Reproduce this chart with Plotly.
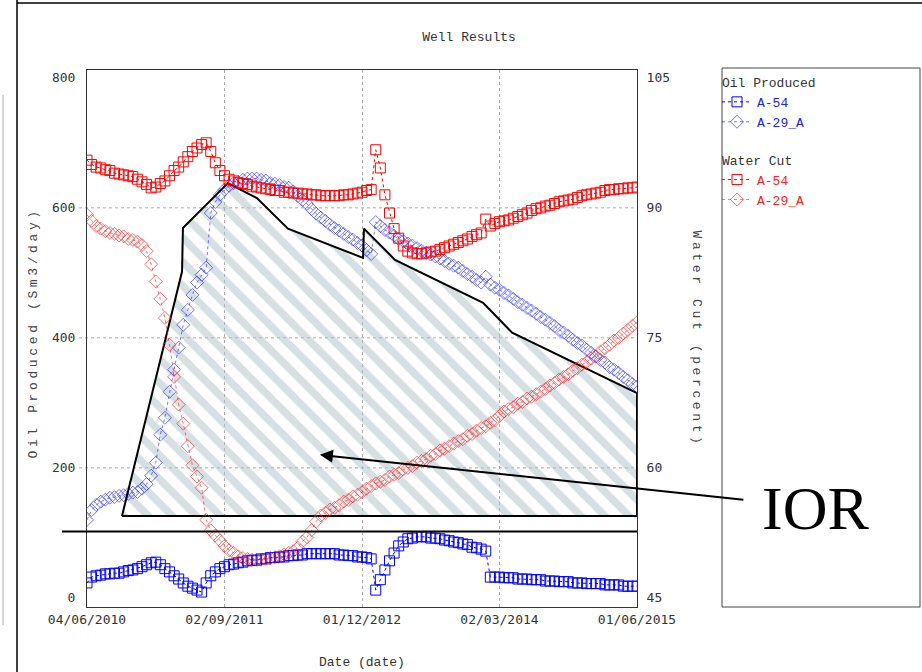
import pandas as pd
import plotly.graph_objects as go

# ---- data -----------------------------------------------------------------
# report dates: 121 evenly spaced samples between first and last report
dates = pd.date_range("2010-06-04", "2015-06-01", periods=121)

# Oil produced (Sm3/day)
oil_a54 = [
    23, 32, 34, 35, 37, 37, 38, 38, 40, 42, 43, 45, 48,
    51, 54, 55, 51, 45, 40, 34, 29, 23, 18, 15, 12, 9,
    23, 34, 40, 45, 48, 51, 52, 54, 55, 57, 58, 58, 60,
    60, 62, 62, 63, 63, 65, 65, 66, 66, 68, 68, 68,
    68, 68, 68, 68, 66, 66, 65, 65, 63, 63, 62, 60,
    12, 28, 43, 57, 69, 80, 86, 91, 92, 94, 94, 94,
    92, 92, 91, 89, 88, 86, 85, 83, 82, 78, 77, 75,
    72, 32, 32, 32, 31, 31, 31, 29, 29, 29, 28, 28,
    28, 26, 26, 26, 25, 25, 25, 23, 23, 23, 22, 22,
    22, 22, 20, 20, 20, 20, 18, 18, 18, 18,
]
oil_a29a = [
    120, 135, 143, 148, 151, 154, 155, 157, 158, 160, 162, 163, 168,
    175, 188, 208, 251, 277, 317, 351, 385, 420, 443, 466, 485, 497,
    508, 592, 609, 620, 628, 634, 638, 640, 643, 645, 645, 645, 643,
    642, 638, 637, 635, 632, 631, 625, 618, 612, 606, 598, 591,
    585, 580, 574, 569, 565, 560, 555, 551, 546, 542, 535, 529,
    578, 572, 566, 562, 557, 552, 549, 545, 542, 538, 534, 531,
    528, 525, 522, 518, 514, 511, 508, 503, 498, 494, 489, 485,
    494, 482, 477, 474, 469, 465, 460, 455, 451, 446, 442, 437,
    432, 428, 423, 418, 412, 408, 403, 397, 392, 388, 382, 377,
    371, 366, 362, 355, 351, 346, 340, 335, 329, 325,
]

# Water cut (percent)
wc_a54 = [
    95.5, 95.0, 94.7, 94.6, 94.4, 94.3, 94.0, 93.9, 93.8, 93.7, 93.6, 93.3, 93.0,
    92.7, 92.3, 92.4, 92.8, 93.1, 93.7, 94.3, 94.7, 95.3, 95.9, 96.5, 96.9, 97.3,
    97.5, 96.5, 95.2, 94.3, 93.7, 93.3, 93.1, 92.9, 92.8, 92.7, 92.5, 92.4, 92.3,
    92.2, 92.1, 92.0, 92.0, 91.8, 91.8, 91.7, 91.7, 91.6, 91.6, 91.5, 91.5,
    91.4, 91.4, 91.4, 91.4, 91.4, 91.5, 91.5, 91.6, 91.7, 91.8, 92.0, 92.1,
    96.7, 94.6, 91.5, 89.4, 87.6, 86.5, 85.6, 85.0, 84.8, 84.7, 84.7, 84.8,
    84.9, 85.0, 85.2, 85.4, 85.6, 85.8, 86.0, 86.2, 86.4, 86.7, 86.9, 87.1,
    88.7, 87.9, 88.2, 88.4, 88.5, 88.6, 88.8, 89.0, 89.2, 89.4, 89.7, 89.9,
    90.0, 90.2, 90.3, 90.5, 90.7, 90.8, 90.9, 91.0, 91.2, 91.4, 91.5, 91.6,
    91.7, 91.8, 92.0, 92.1, 92.1, 92.2, 92.2, 92.3, 92.3, 92.4,
]
wc_a29a = [
    89.2, 88.5, 87.9, 87.6, 87.3, 87.1, 87.0, 86.8, 86.7, 86.4, 86.3, 86.1, 85.7,
    85.0, 83.5, 81.5, 79.5, 77.3, 74.2, 70.5, 67.3, 65.1, 62.5, 60.3, 59.0, 57.7,
    54.0, 52.8, 52.2, 51.6, 51.0, 50.5, 50.2, 49.8, 49.6, 49.5, 49.4, 49.4, 49.4,
    49.5, 49.6, 49.7, 49.8, 50.0, 50.2, 50.4, 50.8, 51.5, 52.0, 52.8, 53.8,
    54.5, 54.8, 55.2, 55.4, 55.7, 56.1, 56.3, 56.7, 56.9, 57.2, 57.6, 57.9,
    58.2, 58.4, 58.6, 59.0, 59.2, 59.4, 59.8, 60.0, 60.2, 60.6, 60.8, 61.0,
    61.4, 61.6, 62.0, 62.2, 62.5, 62.8, 63.1, 63.3, 63.7, 63.9, 64.3, 64.6,
    64.8, 65.2, 65.5, 66.0, 66.5, 66.8, 67.0, 67.4, 67.6, 68.0, 68.2, 68.5,
    68.8, 69.1, 69.5, 69.8, 70.2, 70.5, 70.8, 71.2, 71.5, 71.9, 72.2, 72.6,
    72.9, 73.4, 73.8, 74.2, 74.7, 75.0, 75.5, 75.9, 76.4, 76.8,
]

# IOR (improved oil recovery) envelope, in oil-rate units
ior_dates = ["2010-09-28", "2011-04-15", "2011-04-18", "2011-09-14", "2011-12-19",
             "2012-03-31", "2012-12-05", "2012-12-08", "2013-03-21", "2014-01-07",
             "2014-04-13", "2015-06-01", "2015-06-01"]
ior_oil = [126, 502, 569, 638, 615, 568, 523, 568, 520, 454, 408, 315, 126]
base_oil = 102                          # reference base-rate line
ior_arrow_date, ior_arrow_oil = "2012-07-15", 220

# axis ticks
x_tickvals = ["2010-06-04", "2011-09-02 18:00", "2012-12-01 12:00",
              "2014-03-02 06:00", "2015-06-01"]
x_ticktext = ["04/06/2010", "02/09/2011", "01/12/2012", "02/03/2014", "01/06/2015"]
oil_ticks = [0, 200, 400, 600, 800]
oil_grid = [200, 400, 600]
wc_ticks = [45, 60, 75, 90, 105]

# ---- layout geometry (pixels) -------------------------------------------
W, H = 922, 672
L, R, T, B = 87, 637, 70, 607          # plot-area edges


def px(x):
    return (x - L) / (R - L)


def py(y):
    return (B - y) / (B - T)


MONO = "Liberation Mono, Courier New, monospace"
TICKF = "DejaVu Sans Mono, monospace"
BLUE, RED = "#0000ff", "#ff0000"
BLUE_L, RED_L = "rgba(40,40,255,0.65)", "rgba(255,30,30,0.65)"
GRID = "#aaa"


def spaced(s, gap=6):
    sep = "<span style='font-size:%dpx'>\u00a0</span>" % gap
    return sep.join(ch if ch != " " else "\u00a0" for ch in s)


fig = go.Figure()

# hatched IOR region
fig.add_trace(go.Scatter(
    x=ior_dates, y=ior_oil, fill="toself", mode="none",
    fillpattern=dict(shape="\\", fgcolor="#adc0c5", bgcolor="rgba(255,255,255,0)",
                     size=17, solidity=0.45),
    showlegend=False, hoverinfo="skip"))

fig.add_trace(go.Scatter(
    x=dates, y=oil_a54, mode="lines+markers", name="<span style='color:#2020ff'>A-54</span>",
    legendgroup="oil", legendgrouptitle=dict(text="Oil Produced"),
    line=dict(color=BLUE, width=1, dash="dot"),
    marker=dict(symbol="square-open", size=10, color=BLUE, line=dict(width=1))))
fig.add_trace(go.Scatter(
    x=dates, y=oil_a29a, mode="lines+markers", name="<span style='color:#2020ff'>A-29_A</span>",
    legendgroup="oil",
    line=dict(color=BLUE_L, width=1, dash="dot"),
    marker=dict(symbol="diamond-open", size=10, color=BLUE_L, line=dict(width=1))))
fig.add_trace(go.Scatter(
    x=dates, y=wc_a54, mode="lines+markers", name="<span style='color:#ff2020'>A-54</span>",
    legendgroup="wc", legendgrouptitle=dict(text="Water Cut"), yaxis="y2",
    line=dict(color=RED, width=1, dash="dot"),
    marker=dict(symbol="square-open", size=10, color=RED, line=dict(width=1))))
fig.add_trace(go.Scatter(
    x=dates, y=wc_a29a, mode="lines+markers", name="<span style='color:#ff2020'>A-29_A</span>",
    legendgroup="wc", yaxis="y2",
    line=dict(color=RED_L, width=1, dash="dot"),
    marker=dict(symbol="diamond-open", size=10, color=RED_L, line=dict(width=1))))

# IOR outline on top
fig.add_trace(go.Scatter(
    x=ior_dates + [ior_dates[0]], y=ior_oil + [ior_oil[0]], mode="lines",
    line=dict(color="black", width=2), showlegend=False, hoverinfo="skip"))

shapes = [
    # horizontal dotted grid, running out to the tick labels
    *[dict(type="line", xref="paper", yref="y", x0=px(79), x1=1.0, y0=v, y1=v,
           line=dict(color=GRID, width=1, dash="dot"), layer="below") for v in oil_grid],
    # base-rate line
    dict(type="line", xref="paper", yref="y", x0=px(62), x1=1.0, y0=base_oil, y1=base_oil,
         line=dict(color="black", width=2)),
    # legend frame
    dict(type="rect", xref="paper", yref="paper", x0=px(722), x1=px(920), y0=py(607), y1=py(68),
         line=dict(color="#444", width=1)),
    # page frame
    dict(type="line", xref="paper", yref="paper", x0=px(17), x1=px(17), y0=py(0), y1=py(672),
         line=dict(color="black", width=1.5)),
    dict(type="line", xref="paper", yref="paper", x0=px(17), x1=px(922), y0=py(3), y1=py(3),
         line=dict(color="black", width=1.5)),
    dict(type="line", xref="paper", yref="paper", x0=px(3), x1=px(3), y0=py(95), y1=py(625),
         line=dict(color="#aaa", width=1)),
]

annotations = [
    dict(xref="paper", yref="paper", x=0.5, y=py(662), text="Date (date)", showarrow=False,
         font=dict(family=MONO, size=13, color="#333"), yanchor="middle"),
    dict(xref="paper", yref="paper", x=px(23), y=py(335), text=spaced("Oil Produced (Sm3/day)"),
         textangle=-90, showarrow=False, font=dict(family=MONO, size=13, color="#444")),
    dict(xref="paper", yref="paper", x=px(706), y=py(337), text=spaced("Water Cut (percent)"),
         textangle=90, showarrow=False, font=dict(family=MONO, size=13, color="#444")),
    dict(x=ior_arrow_date, y=ior_arrow_oil, xref="x", yref="y", text="", showarrow=True,
         ax=425, ay=45, arrowhead=2, arrowsize=1.3, arrowwidth=2, arrowcolor="black"),
    dict(xref="paper", yref="paper", x=px(815), y=py(508), text="IOR", showarrow=False,
         font=dict(family="Liberation Serif, Times New Roman, serif", size=62, color="black"),
         xanchor="center", yanchor="middle"),
]

axis_common = dict(showline=True, linecolor="#333", linewidth=1,
                   tickfont=dict(family=TICKF, size=13, color="#333"),
                   zeroline=False)

fig.update_layout(
    width=W, height=H,
    margin=dict(l=L, r=W - R, t=T, b=H - B),
    paper_bgcolor="white", plot_bgcolor="white",
    title=dict(text="Well Results", x=469 / W, xref="container", y=1 - 36 / H,
               yref="container", xanchor="center", yanchor="middle",
               font=dict(family=MONO, size=13, color="#333")),
    xaxis=dict(type="date", range=["2010-06-04", "2015-06-01"], tickvals=x_tickvals,
               ticktext=x_ticktext, showgrid=True, gridcolor=GRID, griddash="dot",
               mirror=True, ticks="", **axis_common),
    yaxis=dict(range=[-14, 812], tickvals=oil_ticks, showgrid=False,
               ticks="outside", ticklen=8, tickcolor="rgba(0,0,0,0)",
               mirror=False, **axis_common),
    yaxis2=dict(range=[43.95, 105.9], tickvals=wc_ticks, overlaying="y", side="right",
                showgrid=False, ticks="outside", ticklen=6, tickcolor="rgba(0,0,0,0)",
                **axis_common),
    legend=dict(x=px(717), y=py(67), xanchor="left", yanchor="top", bgcolor="rgba(0,0,0,0)",
                borderwidth=0, font=dict(family=MONO, size=13, color="#333"),
                tracegroupgap=18, itemwidth=30,
                grouptitlefont=dict(family=MONO, size=13, color="#333")),
    shapes=shapes,
    annotations=annotations,
    showlegend=True,
)

fig.write_html("out.html")
